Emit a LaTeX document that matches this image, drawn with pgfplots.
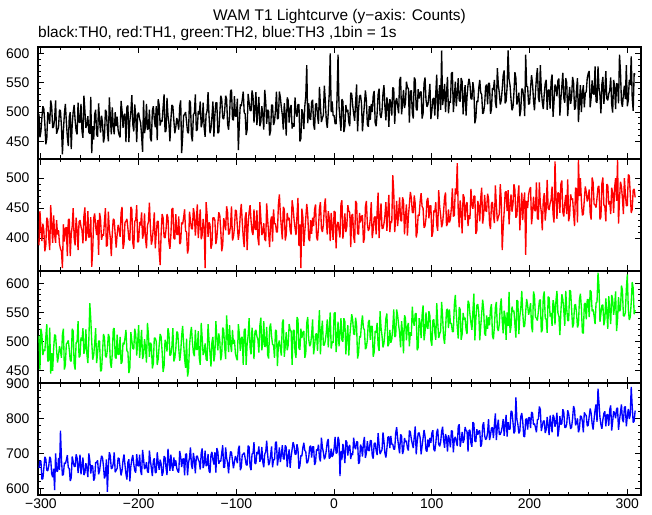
\documentclass[border=0pt]{standalone}
\usepackage{pgfplots}
\usepackage{pgfplotstable}
\pgfplotsset{compat=1.18}
\usepackage{fontspec}
\setmainfont{Liberation Sans}
\pgfplotstableread{
t a b c d
-302 497 388 510 658
-301 457 445 452 678
-300 467 416 522 678
-299 491 395 512 626
-298 510 424 477 628
-297 505 412 486 658
-296 480 378 484 690
-295 445 388 508 684
-294 455 434 530 652
-293 500 430 466 650
-292 493 400 468 664
-291 480 380 524 690
-290 520 455 445 684
-289 510 422 480 642
-288 473 392 450 632
-287 475 438 488 656
-286 488 406 512 595
-285 520 392 510 700
-284 463 430 486 650
-283 469 406 464 648
-282 474 413 476 687
-281 504 390 492 653
-280 502 382 484 765
-279 476 378 472 683
-278 428 350 512 637
-277 468 423 522 640
-276 497 394 452 673
-275 514 416 460 670
-274 484 418 496 681
-273 458 370 498 695
-272 442 430 502 659
-271 492 432 486 657
-270 500 370 468 621
-269 437 406 466 630
-268 479 420 522 691
-267 500 450 518 677
-266 512 400 462 663
-265 486 388 452 662
-264 468 434 498 697
-263 462 414 500 687
-262 516 380 535 644
-261 483 427 473 668
-260 482 430 475 696
-259 514 419 507 640
-258 468 413 501 664
-257 456 391 523 688
-256 528 437 479 638
-255 502 451 487 645
-254 473 395 521 672
-253 478 407 479 658
-252 493 445 463 632
-251 466 401 501 700
-250 463 403 566 680
-249 526 435 539 642
-248 430 352 499 666
-247 476 381 469 663
-246 453 433 477 622
-245 496 441 497 630
-244 504 419 523 674
-243 462 405 463 674
-242 458 430 481 680
-241 515 372 501 640
-240 486 442 501 650
-239 465 432 449 674
-238 494 397 451 693
-237 482 406 481 688
-236 448 404 513 663
-235 458 428 507 628
-234 504 450 475 638
-233 500 386 473 683
-232 470 388 487 590
-231 450 444 513 663
-230 525 414 507 703
-229 492 400 465 693
-228 462 370 455 656
-227 508 408 479 658
-226 476 432 521 671
-225 462 430 523 703
-224 500 406 473 646
-223 476 384 471 652
-222 492 406 512 657
-221 469 422 478 687
-220 461 414 478 685
-219 457 402 508 659
-218 519 442 462 637
-217 502 452 465 651
-216 473 382 498 680
-215 495 390 495 697
-214 497 426 506 667
-213 449 428 520 641
-212 509 432 484 625
-211 511 416 482 675
-210 449 398 446 683
-209 485 396 455 620
-208 499 452 516 662
-207 529 448 502 683
-206 479 392 488 695
-205 467 382 487 669
-204 513 428 522 651
-203 493 430 512 645
-202 449 455 476 698
-201 496 393 500 665
-200 499 395 528 664
-199 488 427 472 696
-198 482 421 496 650
-197 460 443 520 638
-196 432 399 470 710
-195 520 407 477 684
-194 464 441 504 655
-193 476 399 490 660
-192 514 383 464 675
-191 470 421 532 648
-190 472 427 512 645
-189 504 459 474 708
-188 456 419 498 680
-187 450 389 495 658
-186 502 397 454 635
-185 510 417 462 678
-184 488 443 506 686
-183 474 383 506 644
-182 510 408 500 646
-181 452 428 460 703
-180 522 428 470 674
-179 512 376 494 653
-178 477 355 513 682
-177 486 408 508 670
-176 484 440 483 636
-175 508 434 448 646
-174 530 402 458 692
-173 466 400 503 688
-172 468 414 496 658
-171 524 440 483 638
-170 494 434 523 713
-169 480 392 513 680
-168 450 382 476 650
-167 488 406 478 696
-166 512 448 491 664
-165 510 450 523 650
-164 486 400 466 688
-163 464 398 472 664
-162 474 440 487 680
-161 490 406 517 657
-160 482 406 515 649
-159 470 436 489 645
-158 510 390 467 707
-157 520 393 481 690
-156 430 426 510 661
-155 458 423 527 683
-154 494 434 497 685
-153 496 448 471 637
-152 500 412 455 697
-151 484 410 505 699
-150 466 374 440 637
-149 464 383 450 673
-148 520 444 492 687
-147 516 430 513 717
-146 460 416 525 667
-145 450 415 499 655
-144 496 450 481 701
-143 498 440 475 681
-142 530 404 520 643
-141 468 428 487 690
-140 470 456 486 693
-139 502 400 518 682
-138 496 424 472 676
-137 518 448 460 654
-136 474 398 532 700
-135 482 405 506 714
-134 516 432 477 658
-133 474 418 482 670
-132 458 350 497 708
-131 496 460 470 664
-130 502 440 467 666
-129 534 402 530 698
-128 494 426 502 650
-127 464 423 480 644
-126 472 382 457 696
-125 492 390 500 704
-124 518 434 508 682
-123 458 434 466 668
-122 496 430 478 703
-121 516 390 535 645
-120 516 400 506 715
-119 464 424 485 705
-118 466 443 514 670
-117 496 438 502 679
-116 528 413 468 677
-115 522 378 478 701
-114 490 388 524 723
-113 488 433 520 659
-112 502 426 490 661
-111 528 413 470 717
-110 522 453 545 687
-109 480 443 512 673
-108 470 406 482 643
-107 494 408 528 681
-106 536 421 496 705
-105 538 453 482 703
-104 488 396 520 679
-103 486 402 496 657
-102 527 417 503 676
-101 493 447 480 692
-100 493 445 472 684
-99 523 419 468 672
-98 435 397 530 712
-97 480 411 513 722
-96 513 440 484 652
-95 510 457 506 660
-94 521 427 508 696
-93 535 401 460 698
-92 499 385 520 702
-91 497 435 522 686
-90 461 443 460 668
-89 470 380 496 666
-88 531 422 510 722
-87 517 443 540 718
-86 503 455 490 662
-85 502 429 478 652
-84 537 411 524 698
-83 527 405 504 700
-82 482 448 470 732
-81 506 415 517 670
-80 534 414 520 672
-79 478 446 509 704
-78 502 400 503 698
-77 526 388 481 720
-76 476 460 527 676
-75 483 434 541 684
-74 510 405 485 718
-73 496 410 497 676
-72 470 425 535 660
-71 538 398 491 698
-70 518 395 493 704
-69 480 458 525 736
-68 504 430 477 696
-67 501 408 471 666
-66 460 385 523 674
-65 468 428 531 694
-64 512 436 509 720
-63 512 394 495 660
-62 478 448 494 683
-61 484 424 472 681
-60 503 424 520 731
-59 535 410 518 733
-58 488 410 458 665
-57 490 456 496 689
-56 535 473 502 717
-55 525 440 488 675
-54 508 418 476 697
-53 495 398 532 723
-52 470 452 538 685
-51 515 448 474 683
-50 495 396 492 723
-49 460 406 516 717
-48 525 442 485 661
-47 520 430 494 691
-46 482 434 530 711
-45 506 413 520 659
-44 512 406 518 691
-43 472 463 460 711
-42 481 451 518 732
-41 475 431 520 722
-40 525 417 482 698
-39 499 405 472 697
-38 492 437 542 726
-37 513 467 538 712
-36 513 387 488 656
-35 450 423 486 665
-34 455 350 522 694
-33 505 449 506 692
-32 497 435 516 716
-31 471 387 518 730
-30 510 411 472 708
-29 527 433 480 705
-28 580 457 532 672
-27 481 440 542 675
-26 515 399 504 688
-25 489 395 492 718
-24 487 430 496 722
-23 517 407 512 688
-22 521 434 538 719
-21 479 420 478 719
-20 470 448 492 667
-19 513 456 512 675
-18 515 402 514 711
-17 493 396 484 708
-16 480 418 522 725
-15 543 450 554 687
-14 510 460 478 677
-13 483 416 516 745
-12 490 410 536 717
-11 495 422 494 703
-10 545 452 494 683
-9 519 466 502 690
-8 485 428 516 709
-7 473 406 538 733
-6 499 445 490 741
-5 531 434 522 685
-4 600 395 550 689
-3 500 442 488 713
-2 518 419 500 690
-1 494 397 498 696
0 494 445 548 715
1 480 443 550 747
2 480 383 482 700
3 526 421 506 702
4 598 427 534 747
5 510 413 492 737
6 488 401 514 635
7 468 457 540 707
8 522 463 502 682
9 518 399 500 727
10 466 417 540 707
11 476 441 534 672
12 512 410 478 737
13 500 419 508 732
14 504 455 528 694
15 483 445 476 718
16 476 443 508 724
17 533 385 528 684
18 531 438 547 701
19 511 440 537 695
20 497 402 513 745
21 485 392 512 719
22 517 462 541 712
23 547 458 527 733
24 467 408 471 733
25 503 406 480 670
26 527 442 509 675
27 529 426 507 725
28 515 436 531 717
29 467 438 545 691
30 491 392 523 730
31 513 400 520 747
32 537 452 487 687
33 520 462 490 701
34 479 424 503 735
35 475 412 533 709
36 510 416 537 707
37 487 432 503 737
38 514 460 526 736
39 500 400 526 694
40 528 414 474 685
41 536 434 482 728
42 482 436 518 730
43 476 406 515 708
44 498 444 532 695
45 530 476 494 758
46 540 400 484 725
47 496 438 552 698
48 490 458 524 705
49 502 416 510 710
50 532 416 490 760
51 546 424 497 734
52 508 438 516 700
53 486 460 540 688
54 525 412 548 714
55 514 444 492 746
56 475 472 496 748
57 522 410 520 715
58 516 428 498 750
59 494 426 504 726
60 542 505 523 726
61 540 478 555 712
62 480 410 508 712
63 518 434 510 758
64 524 462 555 775
65 510 420 545 742
66 498 442 528 720
67 554 468 515 700
68 560 430 490 754
69 496 428 535 750
70 514 468 515 698
71 538 462 480 708
72 507 406 545 744
73 516 436 540 732
74 552 456 502 736
75 542 404 526 715
76 540 436 532 708
77 482 456 492 765
78 535 477 516 761
79 537 467 510 741
80 499 443 560 727
81 489 442 534 715
82 559 471 527 747
83 555 457 548 777
84 505 401 548 697
85 503 410 485 733
86 539 439 490 757
87 523 437 540 759
88 533 461 532 745
89 535 475 506 697
90 489 453 545 721
91 497 450 562 743
92 549 417 502 767
93 559 420 516 750
94 521 433 550 709
95 509 463 524 705
96 513 467 522 740
97 529 433 552 717
98 548 454 544 744
99 488 454 502 730
100 502 402 493 758
101 522 410 536 766
102 524 446 538 712
103 494 443 516 706
104 532 460 503 728
105 564 422 566 760
106 488 412 533 770
107 526 480 506 726
108 546 452 513 720
109 504 438 518 732
110 605 418 568 762
111 512 425 542 776
112 526 444 508 738
113 548 468 496 716
114 500 476 522 755
115 532 420 554 744
116 560 424 556 705
117 498 448 523 752
118 518 426 555 739
119 516 432 531 717
120 566 451 531 765
121 568 483 517 763
122 500 436 517 703
123 524 438 563 741
124 552 483 580 747
125 510 473 547 733
126 532 525 525 721
127 558 443 505 777
128 520 418 559 783
129 518 463 555 719
130 558 443 503 737
131 552 408 513 761
132 496 473 549 730
133 526 468 537 739
134 546 430 541 775
135 494 454 520 765
136 526 460 513 763
137 546 420 570 705
138 557 438 566 765
139 547 432 546 767
140 523 482 532 729
141 522 456 520 719
142 551 449 552 789
143 537 470 582 785
144 481 470 502 735
145 490 407 538 733
146 519 412 562 769
147 517 462 564 753
148 541 454 550 763
149 555 428 502 765
150 533 467 526 719
151 530 484 548 727
152 497 424 572 779
153 500 438 555 789
154 513 472 514 751
155 543 446 510 739
156 547 444 545 743
157 513 474 522 759
158 549 466 542 798
159 549 424 528 738
160 497 415 556 752
161 505 458 564 772
162 541 460 510 774
163 538 438 504 744
164 555 425 526 782
165 517 488 558 814
166 507 455 568 738
167 575 428 524 776
168 547 435 518 796
169 533 440 530 754
170 513 490 560 754
171 520 464 574 762
172 539 380 536 776
173 563 418 514 798
174 571 444 553 750
175 515 476 542 782
176 519 478 503 810
177 543 445 550 748
178 605 480 527 789
179 556 423 585 769
180 546 452 515 769
181 522 473 525 821
182 503 444 560 819
183 508 456 551 789
184 533 490 553 757
185 568 480 529 763
186 558 434 507 860
187 513 438 571 797
188 520 468 569 783
189 533 488 513 757
190 493 413 543 763
191 503 446 557 805
192 540 476 587 815
193 538 430 549 791
194 525 462 525 749
195 493 476 527 747
196 598 372 551 797
197 544 462 573 799
198 543 450 562 768
199 513 473 546 802
200 515 481 554 802
201 541 485 566 772
202 563 423 526 818
203 549 440 516 815
204 520 469 586 782
205 503 447 578 785
206 533 445 542 774
207 559 493 540 760
208 575 433 536 796
209 525 431 552 798
210 517 493 570 834
211 580 457 572 825
212 538 443 516 764
213 517 413 520 778
214 505 463 576 792
215 531 475 586 793
216 549 429 540 758
217 555 449 538 768
218 504 497 515 804
219 537 450 577 780
220 538 447 575 752
221 506 458 543 808
222 552 464 549 784
223 564 486 527 760
224 492 440 571 810
225 518 426 563 803
226 547 528 529 776
227 542 470 571 790
228 527 432 587 816
229 554 476 549 748
230 557 474 543 768
231 494 442 511 806
232 522 490 551 782
233 544 496 581 785
234 567 444 573 826
235 524 436 553 818
236 516 458 527 774
237 558 472 587 774
238 550 440 556 783
239 493 498 536 823
240 522 428 536 813
241 543 438 588 789
242 514 473 586 770
243 526 464 556 775
244 560 466 524 800
245 550 442 530 835
246 504 420 562 825
247 508 484 564 780
248 538 482 550 787
249 558 426 524 800
250 483 530 530 760
251 516 470 572 770
252 546 500 582 807
253 500 462 558 805
254 532 438 516 792
255 546 440 514 760
256 508 464 564 817
257 532 486 566 811
258 535 477 538 808
259 558 461 572 778
260 566 469 572 780
261 570 481 542 806
262 508 441 588 828
263 525 431 585 814
264 554 501 552 785
265 532 493 555 768
266 530 457 544 798
267 578 455 530 824
268 518 451 566 840
269 516 467 568 790
270 578 485 618 885
271 542 487 595 845
272 528 431 534 803
273 498 435 548 782
274 548 491 562 770
275 560 501 563 796
276 514 455 528 814
277 534 453 538 820
278 570 428 574 777
279 523 490 550 810
280 520 488 522 811
281 531 456 578 779
282 537 462 554 825
283 559 440 530 837
284 513 484 580 765
285 499 476 573 791
286 555 442 546 820
287 543 484 560 815
288 505 500 586 800
289 549 462 518 827
290 547 530 538 830
291 515 424 576 767
292 598 464 552 795
293 569 494 555 817
294 517 486 596 840
295 509 466 588 797
296 531 440 544 789
297 545 500 544 831
298 522 474 550 834
299 580 454 590 777
300 510 454 615 806
301 520 506 556 827
302 555 504 537 798
303 546 474 542 810
304 595 442 567 890
305 524 448 602 834
306 502 480 592 788
307 566 482 547 792
308 564 468 554 822
}\lc

\pgfplotsset{
  panel/.style={
    width=603bp, height=112bp, scale only axis,
    anchor=south west,
    xmin=-303, xmax=314,
    axis line style={line width=1.2pt},
    every tick/.style={line width=0.9pt, black},
    major tick length=6bp, minor tick length=3.5bp,
    tick align=inside,
    xtick={-300,-200,...,300},
    minor x tick num=4,
    xticklabels={},
    minor y tick num=4,
    /pgf/number format/assume math mode=true,
    tick label style={font=\fontsize{14}{14}\selectfont},
    yticklabel style={xshift=-5bp},
    every axis plot/.append style={line width=1.35pt, line join=bevel},
  }
}

\begin{document}
\begin{tikzpicture}
\useasboundingbox (-38bp,-20bp) rectangle (614bp,495bp);
\begin{axis}[panel, at={(0bp,336bp)}, ymin=420, ymax=611, ytick={450,500,550,600}]
\addplot[black] table[x=t,y=a]{\lc};
\end{axis}
\begin{axis}[panel, at={(0bp,224bp)}, ymin=345, ymax=532, ytick={400,450,500}]
\addplot[red] table[x=t,y=b]{\lc};
\end{axis}
\begin{axis}[panel, at={(0bp,112bp)}, ymin=429, ymax=621, ytick={450,500,550,600}]
\addplot[color={rgb,255:red,0;green,255;blue,0}] table[x=t,y=c]{\lc};
\end{axis}
\begin{axis}[panel, at={(0bp,0bp)}, ymin=581, ymax=901, ytick={600,700,800,900},
  xticklabels={−300,−200,−100,0,100,200,300}]
\addplot[blue] table[x=t,y=d]{\lc};
\end{axis}
\node[font=\fontsize{15.5}{16}\selectfont] at (301.5bp,478bp) {WAM T1 Lightcurve (y−axis: Counts)};
\node[font=\fontsize{15.5}{16}\selectfont, anchor=west, inner sep=0pt] at (0bp,461bp) {black:TH0, red:TH1, green:TH2, blue:TH3 ,1bin = 1s};
\end{tikzpicture}
\end{document}
